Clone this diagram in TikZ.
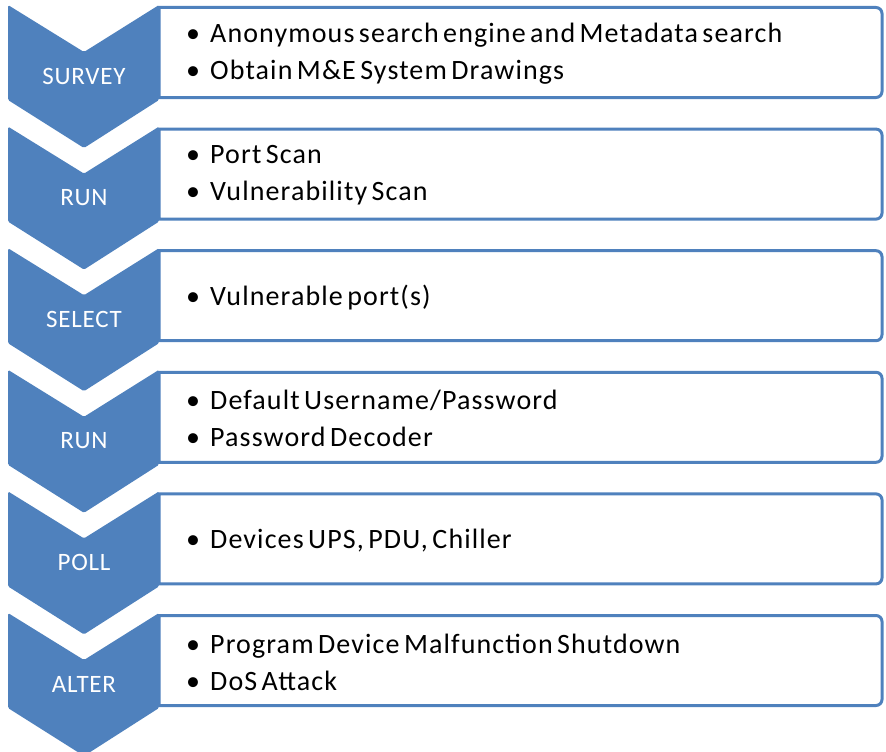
\documentclass[tikz,border=0pt]{standalone}
\usepackage{fontspec}
\setmainfont{Carlito}
\newfontfamily\itemfont[LetterSpace=4,WordSpace=0.6]{Carlito}
\newfontfamily\labfont[LetterSpace=3]{Carlito}
\definecolor{chevblue}{HTML}{4F81BD}
\tikzset{
  chev/.style={fill=chevblue, draw=none, rounded corners=1.5pt},
  infobox/.style={draw=chevblue, line width=3pt, fill=white},
  lbl/.style={text=white, font=\labfont\fontsize{25}{28}\selectfont, inner sep=0pt},
  items/.style={anchor=west, align=left, font=\itemfont\fontsize{28}{37}\selectfont, inner sep=0pt, text=black}
}
\newcommand{\bul}{\makebox[24pt][l]{•}}
\begin{document}
\begin{tikzpicture}[x=1pt,y=-1pt]
\useasboundingbox (0,0) rectangle (886,752);
\foreach \i/\lab/\txt in {
  0/SURVEY/{\bul Anonymous search engine and Metadata search\\\bul Obtain M\&E System Drawings},
  1/RUN/{\bul Port Scan\\\bul Vulnerability Scan},
  2/SELECT/{\bul Vulnerable port(s)},
  3/RUN/{\bul Default Username/Password\\\bul Password Decoder},
  4/POLL/{\bul Devices UPS, PDU, Chiller},
  5/ALTER/{\bul Program Device Malfunction Shutdown\\\bul DoS Attack}}{
  \pgfmathsetmacro{\t}{5+121.6*\i}
  \draw[infobox] (159,\t+2.5) [rounded corners=6pt] -- (882,\t+2.5) -- (882,\t+92.5) [sharp corners] -- (159,\t+92.5) -- cycle;
  \fill[chev] (8,\t) -- (84,\t+47) -- (159,\t) -- (159,\t+95) -- (84,\t+143) -- (8,\t+95) -- cycle;
  \node[lbl] (lab\i) at (84,\t+71) {\lab};
  \node[items] (txt\i) at (186,\t+49) {\txt};
}
\end{tikzpicture}
\end{document}
